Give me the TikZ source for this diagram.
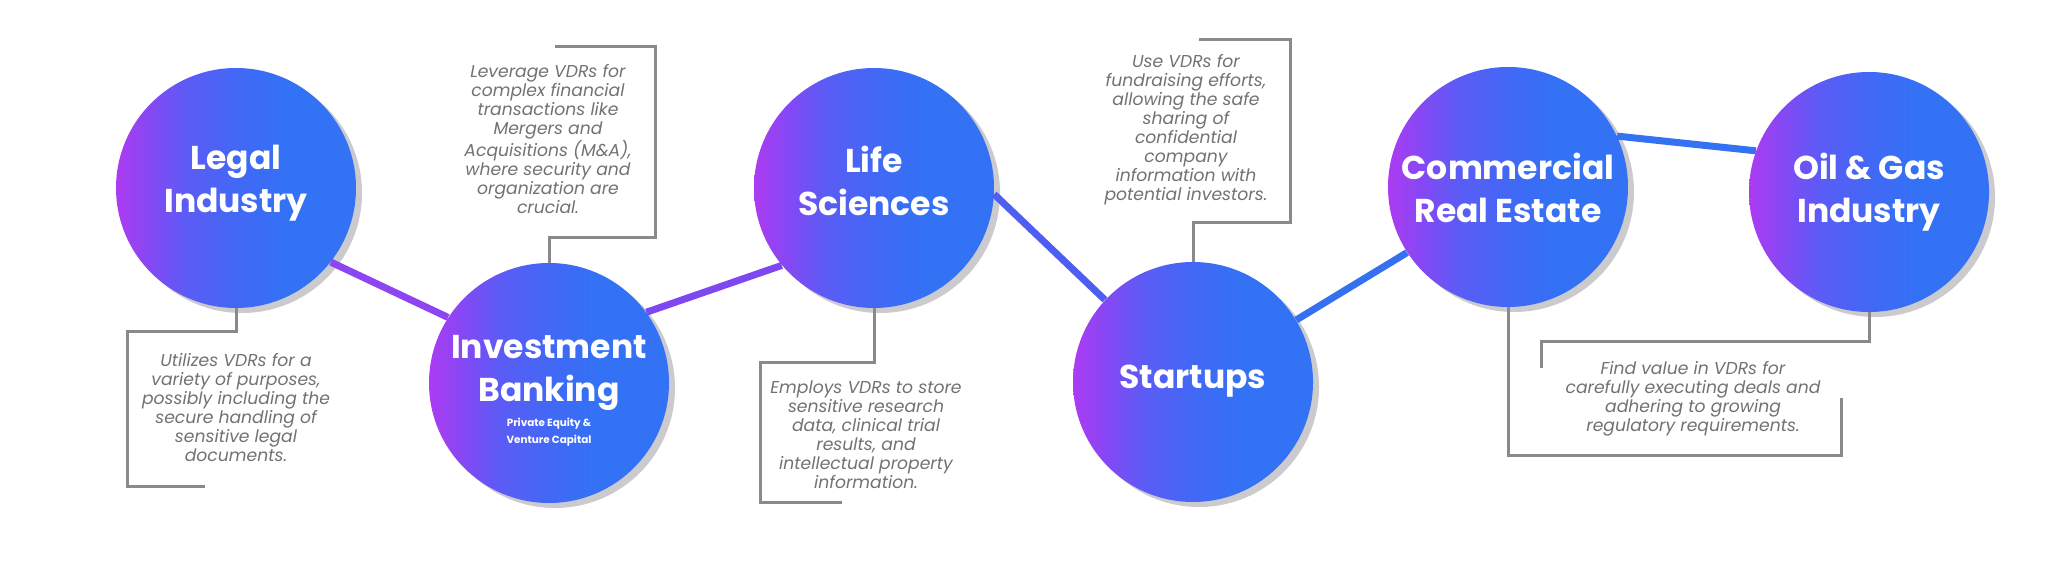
\documentclass[tikz,border=0pt]{standalone}
\usepackage{fontspec}
\setmainfont{Poppins}
\usetikzlibrary{shadows}
\definecolor{cpur}{HTML}{AD3BF2}
\definecolor{cmida}{HTML}{8548F4}
\definecolor{cmidb}{HTML}{5A5CF5}
\definecolor{cmidc}{HTML}{4268F5}
\definecolor{cblu}{HTML}{3371F5}
\definecolor{shadowc}{HTML}{CACACF}
\definecolor{framec}{HTML}{8A8A8A}
\definecolor{textc}{HTML}{727272}
\definecolor{lnA}{HTML}{8C45F0}
\definecolor{lnB}{HTML}{7E47F2}
\definecolor{lnC}{HTML}{4F5EF2}
\definecolor{lnD}{HTML}{3570F0}
\definecolor{lnE}{HTML}{3372F0}
\pgfdeclarehorizontalshading{circgrad}{100bp}{color(0bp)=(cpur); color(25bp)=(cpur); color(32bp)=(cmida); color(40bp)=(cmidb); color(50bp)=(cmidc); color(60bp)=(cblu); color(100bp)=(cblu)}
\begin{document}
\begin{tikzpicture}[x=0.5pt,y=-0.5pt,
  bubble/.style={circle, minimum size=120pt, inner sep=0pt, shading=circgrad,
    drop shadow={shadow xshift=3pt, shadow yshift=-2.5pt, fill=shadowc, opacity=1}},
  head/.style={text=white, font=\fontsize{16.5}{21.5}\selectfont\bfseries, align=center, inner sep=0pt},
  subhead/.style={text=white, font=\fontsize{5.2}{8.5}\selectfont\bfseries, align=center, inner sep=0pt},
  note/.style={text=textc, font=\fontsize{8.6}{9.5}\selectfont\itshape, align=center, inner sep=0pt},
  link/.style={line width=3.5pt},
  frame/.style={draw=framec, line width=1.5pt},
]
\useasboundingbox (0,0) rectangle (2048,566);
\fill[white] (0,0) rectangle (2048,566);

\node[bubble] (legal) at (236,188) {};
\node[bubble] (inv) at (549,383) {};
\node[bubble] (life) at (874,188) {};
\node[bubble] (start) at (1193,382) {};
\node[bubble] (comm) at (1508,187) {};
\node[bubble] (oil) at (1869,192) {};

\draw[link, lnA] (legal.-38) -- (inv.147);
\draw[link, lnB] (inv.36) -- (life.220);
\draw[link, lnC] (life.-3) -- (start.137);
\draw[link, lnD] (start.31) -- (comm.213);
\draw[link, lnE] (comm.25) -- (oil.160);

\node[head] (legalT) at (236,183) {Legal\\Industry};
\node[head] (invT) at (549,373) {Investment\\Banking};
\node[subhead] (invS) at (549,432) {Private Equity \&\\Venture Capital};
\node[head] (lifeT) at (874,181) {Life\\Sciences};
\node[head] (startT) at (1193,381) {Startups};
\node[head] (commT) at (1508,188) {Commercial\\Real Estate};
\node[head] (oilT) at (1869,192) {Oil \& Gas\\Industry};

\node[note] (legalN) at (236,408) {Utilizes VDRs for a\\variety of purposes,\\possibly including the\\secure handling of\\sensitive legal\\documents.};
\node[note] (invN) at (548,139) {Leverage VDRs for\\complex financial\\transactions like\\Mergers and\\Acquisitions (M\&A),\\where security and\\organization are\\crucial.};
\node[note] (lifeN) at (866,435) {Employs VDRs to store\\sensitive research\\data, clinical trial\\results, and\\intellectual property\\information.};
\node[note] (startN) at (1186,130) {Use VDRs for\\fundraising efforts,\\allowing the safe\\sharing of\\confidential\\company\\information with\\potential investors.};
\node[note] (commN) at (1693,399) {Find value in VDRs for\\carefully executing deals and\\adhering to growing\\regulatory requirements.};

\draw[frame] (legal.south) |- (127,332) |- (205,486);
\draw[frame] (inv.north) |- (655,238) |- (555,47);
\draw[frame] (life.south) |- (760,362) |- (842,502);
\draw[frame] (start.north) |- (1290,223) |- (1199,40);
\draw[frame] (comm.south) |- (1841,455) -- (1841,398);
\draw[frame] (oil.south) |- (1541,342) -- (1541,368);
\end{tikzpicture}
\end{document}
